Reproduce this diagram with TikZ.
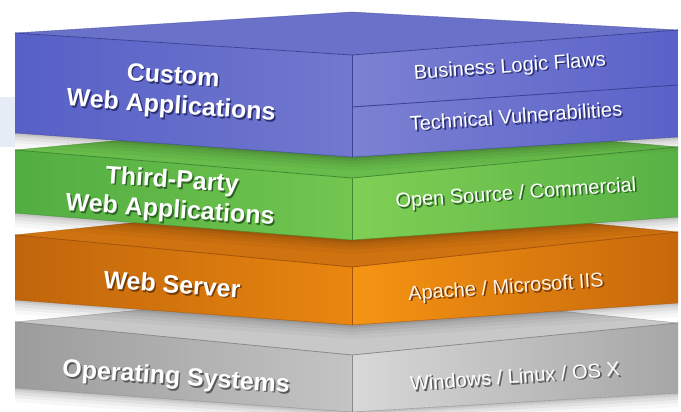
\documentclass[tikz,border=0pt]{standalone}
\usepackage{fontspec}
\setmainfont{Liberation Sans}
\definecolor{blutop}{HTML}{6A71C8}
\definecolor{blula}{HTML}{5760C6}
\definecolor{blulb}{HTML}{7178CE}
\definecolor{blura}{HTML}{7C81D2}
\definecolor{blurb}{HTML}{5A62C8}
\definecolor{bluedge}{HTML}{3C4499}
\definecolor{blushd}{HTML}{2A2F72}
\definecolor{grntop}{HTML}{68BC4B}
\definecolor{grnla}{HTML}{52AD41}
\definecolor{grnlb}{HTML}{72C650}
\definecolor{grnra}{HTML}{80CF55}
\definecolor{grnrb}{HTML}{57B245}
\definecolor{grnedge}{HTML}{3E8A30}
\definecolor{grnshd}{HTML}{2C6322}
\definecolor{orgtop}{HTML}{CF7210}
\definecolor{orgla}{HTML}{C0650C}
\definecolor{orglb}{HTML}{E8860F}
\definecolor{orgra}{HTML}{F69413}
\definecolor{orgrb}{HTML}{C6680B}
\definecolor{orgedge}{HTML}{A35207}
\definecolor{orgshd}{HTML}{743905}
\definecolor{grytop}{HTML}{C8C8C8}
\definecolor{gryla}{HTML}{9C9C9C}
\definecolor{grylb}{HTML}{C4C4C4}
\definecolor{gryra}{HTML}{D8D8D8}
\definecolor{gryrb}{HTML}{A6A6A6}
\definecolor{gryedge}{HTML}{8A8A8A}
\definecolor{gryshd}{HTML}{5A5A5A}
\definecolor{paleblue}{HTML}{E6ECF5}
% #1 tL #2 tF #3 tR #4 bL #5 bF #6 bR #7 apex #8 colour prefix
\newcommand\drawslab[8]{%
  \foreach \s/\o in {2/0.07,4/0.06,7/0.05,10/0.04,14/0.03}{%
    \fill[black,opacity=\o] (15,#4) -- (352,#5) -- (678,#6) -- (678,#6+\s) -- (352,#5+\s) -- (15,#4+\s) -- cycle;}
  \fill[#8top] (15,#1) -- (352,#7) -- (678,#3) -- (352,#2) -- cycle;
  \shade[left color=#8la, right color=#8lb] (15,#1) -- (352,#2) -- (352,#5) -- (15,#4) -- cycle;
  \shade[left color=#8ra, right color=#8rb] (352,#2) -- (678,#3) -- (678,#6) -- (352,#5) -- cycle;
  \draw[#8edge, line width=1pt] (352,#2) -- (352,#5);
  \draw[#8edge, line width=0.8pt, line join=round] (15,#1) -- (352,#2) -- (678,#3);
  \draw[#8edge, line width=0.5pt, opacity=0.6] (15,#1) -- (352,#7) -- (678,#3);
  \draw[#8edge, line width=0.6pt, opacity=0.7] (15,#4) -- (352,#5) -- (678,#6);
}
% text with drop shadow: #1 shadow colour, #2 text
\newcommand\shtx[2]{\leavevmode\rlap{\kern1.6pt\raisebox{-1.6pt}{\color{#1}#2}}#2}
\begin{document}
\begin{tikzpicture}[x=1pt,y=-1pt,
  biglbl/.style={text=white, align=center, rotate=-4, inner sep=0pt,
    font=\bfseries\fontsize{25}{30}\selectfont},
  smalllbl/.style={text=white, align=center, rotate=4, inner sep=0pt,
    font=\fontsize{20}{24}\selectfont}]
\useasboundingbox (0,0) rectangle (681,412);
\fill[white] (0,0) rectangle (681,412);
\fill[paleblue] (0,97) rectangle (15,147);
% gray slab
\drawslab{322}{355}{323}{388}{412}{393}{290}{gry}
\node[biglbl] (os) at (176,379) {\shtx{gryshd}{Operating Systems}};
\node[smalllbl] (osr) at (515,377) {\shtx{gryshd}{Windows / Linux / OS X}};
% orange slab
\drawslab{235}{267}{232}{300}{325}{303}{200}{org}
\node[biglbl] (ws) at (172,285) {\shtx{orgshd}{Web Server}};
\node[smalllbl, text=white!90!orange] (wsr) at (506,289) {\shtx{orgshd}{Apache / Microsoft IIS}};
% green slab
\drawslab{150}{178}{147}{213}{240}{217}{119}{grn}
\node[biglbl] (tp) at (171,197) {\shtx{grnshd}{Third-Party}\\\shtx{grnshd}{Web Applications}};
\node[smalllbl] (tpr) at (516,195) {\shtx{grnshd}{Open Source / Commercial}};
% blue slab
\drawslab{33}{55}{30}{133}{157}{137}{12}{blu}
\draw[bluedge, line width=0.9pt] (352,107) -- (678,85);
\node[biglbl] (cw) at (172,93) {\shtx{blushd}{Custom}\\\shtx{blushd}{Web Applications}};
\node[smalllbl] (bl) at (510,68) {\shtx{blushd}{Business Logic Flaws}};
\node[smalllbl] (tv) at (516,117) {\shtx{blushd}{Technical Vulnerabilities}};
\end{tikzpicture}
\end{document}
